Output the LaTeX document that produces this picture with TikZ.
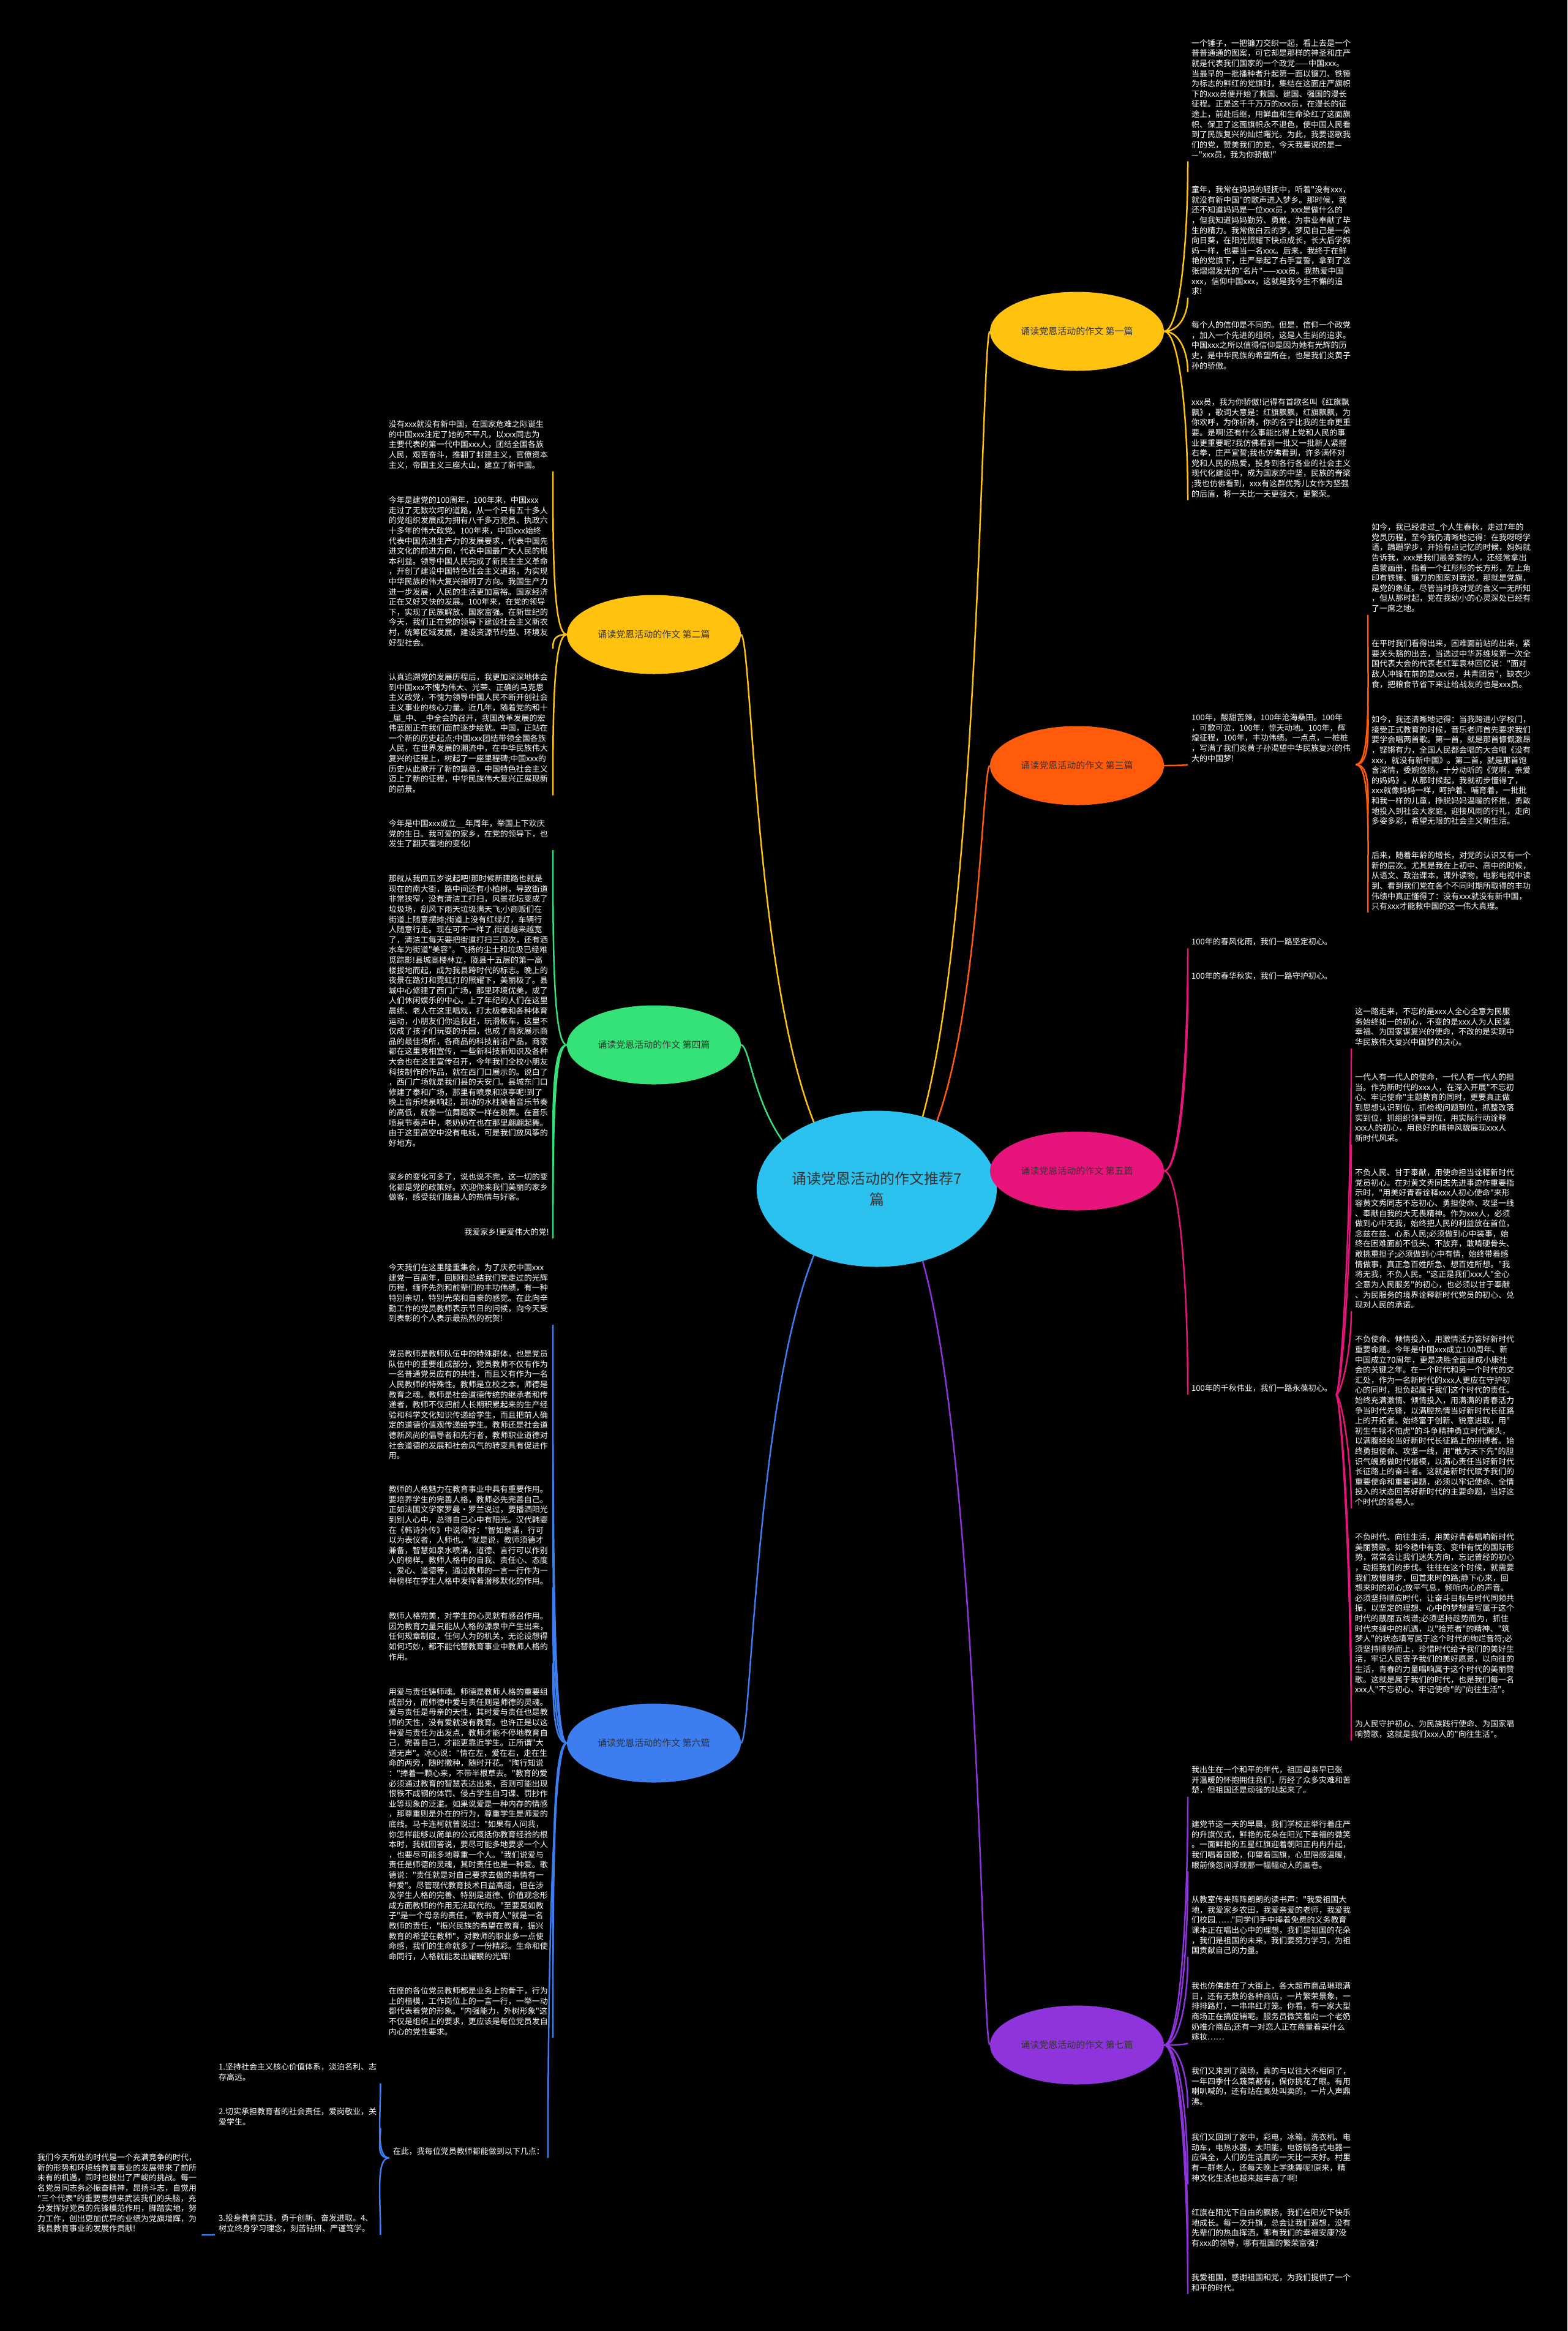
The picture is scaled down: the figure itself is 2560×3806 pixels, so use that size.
\documentclass[tikz,border=0pt]{standalone}
\usepackage{fontspec}
\newfontfamily\cjk{Noto Sans CJK SC}
\usetikzlibrary{calc,shapes.geometric}
\setlength\parindent{0pt}
\definecolor{cy}{HTML}{FFC20E}
\definecolor{co}{HTML}{FF5B0A}
\definecolor{cm}{HTML}{E7157B}
\definecolor{cp}{HTML}{8F33DC}
\definecolor{cg}{HTML}{35E277}
\definecolor{cb}{HTML}{3C7EF0}
\definecolor{cc}{HTML}{2BC2F0}
\pgfdeclarelayer{bg}
\pgfsetlayers{bg,main}
\tikzset{
  txt/.style={font=\cjk\fontsize{13}{16.6}\selectfont, text=white, align=left, inner xsep=6pt, inner ysep=4pt, text width=262pt},
  rtxt/.style={txt, anchor=north west},
  ltxt/.style={txt, anchor=north east},
  one/.style={font=\cjk\fontsize{13}{16.6}\selectfont, text=white, inner xsep=6pt, inner ysep=4pt},
  br/.style={ellipse, fill=#1, minimum width=284pt, minimum height=129pt, inner sep=0pt, font=\cjk\fontsize{15}{18}\selectfont, text=black!80},
  lk/.style={draw=#1, line width=2.5pt},
}
\newcommand\rconn[3]{\draw[lk=#1] (#2) .. controls ($(#2)+(25,0)$) and ($(#3)!0.5!(#3|-#2)$) .. (#3);}
\newcommand\lconn[3]{\draw[lk=#1] (#2) .. controls ($(#2)+(-22,0)$) and ($(#3)!0.5!(#3|-#2)$) .. (#3);}
\begin{document}
\begin{tikzpicture}[x=1pt,y=-1pt]
\begin{pgfonlayer}{bg}
\fill[black] (0,0) rectangle (2560,3806);
\path[use as bounding box] (0,0) rectangle (2560,3806);
\end{pgfonlayer}

% central and branch nodes
\node[ellipse, fill=cc, minimum width=385pt, minimum height=255pt, inner sep=0pt, align=center, font=\cjk\fontsize{24}{34}\selectfont, text=black!80] (c) at (1432,1941) {诵读党恩活动的作文推荐7\\篇};
\node[br=cy] (b1) at (1759,541) {诵读党恩活动的作文 第一篇};
\node[br=co] (b3) at (1759,1250) {诵读党恩活动的作文 第三篇};
\node[br=cm] (b5) at (1759,1912) {诵读党恩活动的作文 第五篇};
\node[br=cp] (b7) at (1759,3339) {诵读党恩活动的作文 第七篇};
\node[br=cy] (b2) at (1068,1036) {诵读党恩活动的作文 第二篇};
\node[br=cg] (b4) at (1068,1706) {诵读党恩活动的作文 第四篇};
\node[br=cb] (b6) at (1068,2846) {诵读党恩活动的作文 第六篇};

% ---------------- branch 1
\node[rtxt] (b1a) at (1940,60) {一个锤子，一把镰刀交织一起，看上去是一个\\普普通通的图案，可它却是那样的神圣和庄严\\就是代表我们国家的一个政党——中国xxx。\\当最早的一批播种者升起第一面以镰刀、铁锤\\为标志的鲜红的党旗时，集结在这面庄严旗帜\\下的xxx员便开始了救国、建国、强国的漫长\\征程。正是这千千万万的xxx员，在漫长的征\\途上，前赴后继，用鲜血和生命染红了这面旗\\帜、保卫了这面旗帜永不退色，使中国人民看\\到了民族复兴的灿烂曙光。为此，我要讴歌我\\们的党，赞美我们的党，今天我要说的是—\\—"xxx员，我为你骄傲!"};
\node[rtxt] (b1b) at (1940,299.5) {童年，我常在妈妈的轻抚中，听着"没有xxx，\\就没有新中国"的歌声进入梦乡。那时候，我\\还不知道妈妈是一位xxx员，xxx是做什么的\\，但我知道妈妈勤劳、勇敢，为事业奉献了毕\\生的精力。我常做白云的梦，梦见自己是一朵\\向日葵，在阳光照耀下快点成长，长大后学妈\\妈一样，也要当一名xxx。后来，我终于在鲜\\艳的党旗下，庄严举起了右手宣誓，拿到了这\\张熠熠发光的"名片"——xxx员。我热爱中国\\xxx，信仰中国xxx，这就是我今生不懈的追\\求!};
\node[rtxt] (b1c) at (1940,520.5) {每个人的信仰是不同的。但是，信仰一个政党\\，加入一个先进的组织，这是人生尚的追求。\\中国xxx之所以值得信仰是因为她有光辉的历\\史，是中华民族的希望所在，也是我们炎黄子\\孙的骄傲。};
\node[rtxt] (b1d) at (1940,646.5) {xxx员，我为你骄傲!记得有首歌名叫《红旗飘\\飘》，歌词大意是：红旗飘飘，红旗飘飘，为\\你欢呼，为你祈祷，你的名字比我的生命更重\\要。是啊!还有什么事能比得上党和人民的事\\业更重要呢?我仿佛看到一批又一批新人紧握\\右拳，庄严宣誓;我也仿佛看到，许多满怀对\\党和人民的热爱，投身到各行各业的社会主义\\现代化建设中，成为国家的中坚，民族的脊梁\\;我也仿佛看到，xxx有这群优秀儿女作为坚强\\的后盾，将一天比一天更强大，更繁荣。};

% ---------------- branch 3
\node[rtxt] (b3m) at (1940,1161.5) {100年，酸甜苦辣，100年沧海桑田。100年\\，可歌可泣，100年，惊天动地。100年，辉\\煌征程，100年，丰功伟绩。一点点，一桩桩\\，写满了我们炎黄子孙渴望中华民族复兴的伟\\大的中国梦!};
\node[rtxt] (b3a) at (2234,850.5) {如今，我已经走过\_个人生春秋，走过7年的\\党员历程，至今我仍清晰地记得：在我呀呀学\\语，蹒跚学步，开始有点记忆的时候，妈妈就\\告诉我，xxx是我们最亲爱的人，还经常拿出\\启蒙画册，指着一个红彤彤的长方形，左上角\\印有铁锤、镰刀的图案对我说，那就是党旗，\\是党的象征。尽管当时我对党的含义一无所知\\，但从那时起，党在我幼小的心灵深处已经有\\了一席之地。};
\node[rtxt] (b3b) at (2234,1040.5) {在平时我们看得出来，困难面前站的出来，紧\\要关头豁的出去，当选过中华苏维埃第一次全\\国代表大会的代表老红军袁林回忆说："面对\\敌人冲锋在前的是xxx员，共青团员"，缺衣少\\食，把粮食节省下来让给战友的也是xxx员。};
\node[rtxt] (b3c) at (2234,1164.5) {如今，我还清晰地记得：当我跨进小学校门，\\接受正式教育的时候，音乐老师首先要求我们\\要学会唱两首歌。第一首，就是那首慷慨激昂\\，铿锵有力，全国人民都会唱的大合唱《没有\\xxx，就没有新中国》。第二首，就是那首饱\\含深情，委婉悠扬，十分动听的《党啊，亲爱\\的妈妈》。从那时候起，我就初步懂得了，\\xxx就像妈妈一样，呵护着、哺育着，一批批\\和我一样的儿童，挣脱妈妈温暖的怀抱，勇敢\\地投入到社会大家庭，迎接风雨的行礼，走向\\多姿多彩，希望无限的社会主义新生活。};
\node[rtxt] (b3d) at (2234,1386.5) {后来，随着年龄的增长，对党的认识又有一个\\新的层次。尤其是我在上初中、高中的时候，\\从语文、政治课本，课外读物，电影电视中读\\到、看到我们党在各个不同时期所取得的丰功\\伟绩中真正懂得了：没有xxx就没有新中国，\\只有xxx才能救中国的这一伟大真理。};

% ---------------- branch 5
\node[one, anchor=north west] (b5a) at (1940,1527.5) {100年的春风化雨，我们一路坚定初心。};
\node[one, anchor=north west] (b5b) at (1940,1583.5) {100年的春华秋实，我们一路守护初心。};
\node[one, anchor=north west] (b5c) at (1940,2256.5) {100年的千秋伟业，我们一路永葆初心。};
\node[rtxt] (b5r1) at (2207,1641.5) {这一路走来，不忘的是xxx人全心全意为民服\\务始终如一的初心，不变的是xxx人为人民谋\\幸福、为国家谋复兴的使命，不改的是实现中\\华民族伟大复兴中国梦的决心。};
\node[rtxt] (b5r2) at (2207,1748.5) {一代人有一代人的使命，一代人有一代人的担\\当。作为新时代的xxx人，在深入开展"不忘初\\心、牢记使命"主题教育的同时，更要真正做\\到思想认识到位，抓检视问题到位，抓整改落\\实到位，抓组织领导到位，用实际行动诠释\\xxx人的初心，用良好的精神风貌展现xxx人\\新时代风采。};
\node[rtxt] (b5r3) at (2207,1904.5) {不负人民、甘于奉献，用使命担当诠释新时代\\党员初心。在对黄文秀同志先进事迹作重要指\\示时，"用美好青春诠释xxx人初心使命"来形\\容黄文秀同志不忘初心、勇担使命、攻坚一线\\、奉献自我的大无畏精神。作为xxx人，必须\\做到心中无我，始终把人民的利益放在首位，\\念兹在兹、心系人民;必须做到心中装事，始\\终在困难面前不低头、不放弃，敢啃硬骨头、\\敢挑重担子;必须做到心中有情，始终带着感\\情做事，真正急百姓所急、想百姓所想。"我\\将无我，不负人民。"这正是我们xxx人"全心\\全意为人民服务"的初心，也必须以甘于奉献\\、为民服务的境界诠释新时代党员的初心、兑\\现对人民的承诺。};
\node[rtxt] (b5r4) at (2207,2176.5) {不负使命、倾情投入，用激情活力答好新时代\\重要命题。今年是中国xxx成立100周年、新\\中国成立70周年，更是决胜全面建成小康社\\会的关键之年。在一个时代和另一个时代的交\\汇处，作为一名新时代的xxx人更应在守护初\\心的同时，担负起属于我们这个时代的责任。\\始终充满激情、倾情投入，用满满的青春活力\\争当时代先锋，以满腔热情当好新时代长征路\\上的开拓者。始终富于创新、锐意进取，用"\\初生牛犊不怕虎"的斗争精神勇立时代潮头，\\以满腹经纶当好新时代长征路上的拼搏者。始\\终勇担使命、攻坚一线，用"敢为天下先"的胆\\识气魄勇做时代楷模，以满心责任当好新时代\\长征路上的奋斗者。这就是新时代赋予我们的\\重要使命和重要课题，必须以牢记使命、全情\\投入的状态回答好新时代的主要命题，当好这\\个时代的答卷人。};
\node[rtxt] (b5r5) at (2207,2499.5) {不负时代、向往生活，用美好青春唱响新时代\\美丽赞歌。如今稳中有变、变中有忧的国际形\\势，常常会让我们迷失方向，忘记曾经的初心\\，动摇我们的步伐。往往在这个时候，就需要\\我们放慢脚步，回首来时的路;静下心来，回\\想来时的初心;放平气息，倾听内心的声音。\\必须坚持顺应时代，让奋斗目标与时代同频共\\振，以坚定的理想、心中的梦想谱写属于这个\\时代的靓丽五线谱;必须坚持趁势而为，抓住\\时代夹缝中的机遇，以"拾荒者"的精神、"筑\\梦人"的状态填写属于这个时代的绚烂音符;必\\须坚持顺势而上，珍惜时代给予我们的美好生\\活，牢记人民寄予我们的美好愿景，以向往的\\生活，青春的力量唱响属于这个时代的美丽赞\\歌。这就是属于我们的时代，也是我们每一名\\xxx人"不忘初心、牢记使命"的"向往生活"。};
\node[rtxt] (b5r6) at (2207,2804.5) {为人民守护初心、为民族践行使命、为国家唱\\响赞歌，这就是我们xxx人的"向往生活"。};

% ---------------- branch 7
\node[rtxt] (b7a) at (1940,2879.5) {我出生在一个和平的年代，祖国母亲早已张\\开温暖的怀抱拥住我们，历经了众多灾难和苦\\楚，但祖国还是顽强的站起来了。};
\node[rtxt] (b7b) at (1940,2968.5) {建党节这一天的早晨，我们学校正举行着庄严\\的升旗仪式，鲜艳的花朵在阳光下幸福的微笑\\。一面鲜艳的五星红旗迎着朝阳正冉冉升起，\\我们唱着国歌，仰望着国旗，心里陪感温暖，\\眼前倏忽间浮现那一幅幅动人的画卷。};
\node[rtxt] (b7c) at (1940,3091.5) {从教室传来阵阵朗朗的读书声："我爱祖国大\\地，我爱家乡农田，我爱亲爱的老师，我爱我\\们校园……"同学们手中捧着免费的义务教育\\课本正在唱出心中的理想，我们是祖国的花朵\\，我们是祖国的未来，我们要努力学习，为祖\\国贡献自己的力量。};
\node[rtxt] (b7d) at (1940,3232.5) {我也仿佛走在了大街上，各大超市商品琳琅满\\目，还有无数的各种商店，一片繁荣景象，一\\排排路灯，一串串红灯笼。你看，有一家大型\\商场正在搞促销呢。服务员微笑着向一个老奶\\奶推介商品;还有一对恋人正在商量着买什么\\嫁妆……};
\node[rtxt] (b7e) at (1940,3371.5) {我们又来到了菜场，真的与以往大不相同了，\\一年四季什么蔬菜都有，保你挑花了眼。有用\\喇叭喊的，还有站在高处叫卖的，一片人声鼎\\沸。};
\node[rtxt] (b7f) at (1940,3479.5) {我们又回到了家中，彩电，冰箱，洗衣机、电\\动车，电热水器，太阳能，电饭锅各式电器一\\应俱全，人们的生活真的一天比一天好。村里\\有一群老人，还每天晚上学跳舞呢!原来，精\\神文化生活也越来越丰富了啊!};
\node[rtxt] (b7g) at (1940,3602.5) {红旗在阳光下自由的飘扬，我们在阳光下快乐\\地成长。每一次升旗，总会让我们遐想，没有\\先辈们的热血挥洒，哪有我们的幸福安康?没\\有xxx的领导，哪有祖国的繁荣富强?};
\node[rtxt] (b7h) at (1940,3708.5) {我爱祖国，感谢祖国和党，为我们提供了一个\\和平的时代。};

% ---------------- branch 2
\node[ltxt] (b2a) at (903,682.5) {没有xxx就没有新中国，在国家危难之际诞生\\的中国xxx注定了她的不平凡，以xxx同志为\\主要代表的第一代中国xxx人，团结全国各族\\人民，艰苦奋斗，推翻了封建主义，官僚资本\\主义，帝国主义三座大山，建立了新中国。};
\node[ltxt] (b2b) at (903,806.5) {今年是建党的100周年，100年来，中国xxx\\走过了无数坎坷的道路，从一个只有五十多人\\的党组织发展成为拥有八千多万党员、执政六\\十多年的伟大政党。100年来，中国xxx始终\\代表中国先进生产力的发展要求，代表中国先\\进文化的前进方向，代表中国最广大人民的根\\本利益。领导中国人民完成了新民主主义革命\\，开创了建设中国特色社会主义道路，为实现\\中华民族的伟大复兴指明了方向。我国生产力\\进一步发展，人民的生活更加富裕。国家经济\\正在又好又快的发展。100年来，在党的领导\\下，实现了民族解放、国家富强。在新世纪的\\今天，我们正在党的领导下建设社会主义新农\\村，统筹区域发展，建设资源节约型、环境友\\好型社会。};
\node[ltxt] (b2c) at (903,1095.5) {认真追溯党的发展历程后，我更加深深地体会\\到中国xxx不愧为伟大、光荣、正确的马克思\\主义政党，不愧为领导中国人民不断开创社会\\主义事业的核心力量。近几年，随着党的和十\\\_届\_中、\_中全会的召开，我国改革发展的宏\\伟蓝图正在我们面前逐步绘就。中国，正站在\\一个新的历史起点;中国xxx团结带领全国各族\\人民，在世界发展的潮流中，在中华民族伟大\\复兴的征程上，树起了一座里程碑;中国xxx的\\历史从此掀开了新的篇章，中国特色社会主义\\迈上了新的征程，中华民族伟大复兴正展现新\\的前景。};

% ---------------- branch 4
\node[ltxt] (b4a) at (903,1334.5) {今年是中国xxx成立\_\_年周年，举国上下欢庆\\党的生日。我可爱的家乡，在党的领导下，也\\发生了翻天覆地的变化!};
\node[ltxt] (b4b) at (903,1424.5) {那就从我四五岁说起吧!那时候新建路也就是\\现在的南大街，路中间还有小柏树，导致街道\\非常狭窄，没有清洁工打扫，风景花坛变成了\\垃圾场，刮风下雨天垃圾满天飞;小商贩们在\\街道上随意摆摊;街道上没有红绿灯，车辆行\\人随意行走。现在可不一样了,街道越来越宽\\了，清洁工每天要把街道打扫三四次，还有洒\\水车为街道"美容"。飞扬的尘土和垃圾已经难\\觅踪影!县城高楼林立，陇县十五层的第一高\\楼拔地而起，成为我县跨时代的标志。晚上的\\夜景在路灯和霓虹灯的照耀下，美丽极了。县\\城中心修建了西门广场，那里环境优美，成了\\人们休闲娱乐的中心。上了年纪的人们在这里\\晨练、老人在这里唱戏，打太极拳和各种体育\\运动，小朋友们你追我赶，玩滑板车，这里不\\仅成了孩子们玩耍的乐园，也成了商家展示商\\品的最佳场所，各商品的科技前沿产品，商家\\都在这里竞相宣传，一些新科技新知识及各种\\大会也在这里宣传召开，今年我们全校小朋友\\科技制作的作品，就在西门口展示的。说白了\\，西门广场就是我们县的天安门。县城东门口\\修建了泰和广场，那里有喷泉和凉亭呢!到了\\晚上音乐喷泉响起，跳动的水柱随着音乐节奏\\的高低，就像一位舞蹈家一样在跳舞。在音乐\\喷泉节奏声中，老奶奶在也在那里翩翩起舞。\\由于这里高空中没有电线，可是我们放风筝的\\好地方。};
\node[ltxt] (b4c) at (903,1911.5) {家乡的变化可多了，说也说不完，这一切的变\\化都是党的政策好。欢迎你来我们美丽的家乡\\做客，感受我们陇县人的热情与好客。};
\node[one, anchor=north east] (b4d) at (903,2001.5) {我爱家乡!更爱伟大的党!};

% ---------------- branch 6
\node[ltxt] (b6a) at (903,2059.5) {今天我们在这里隆重集会，为了庆祝中国xxx\\建党一百周年，回顾和总结我们党走过的光辉\\历程，缅怀先烈和前辈们的丰功伟绩，有一种\\特别亲切，特别光荣和自豪的感觉。在此向辛\\勤工作的党员教师表示节日的问候，向今天受\\到表彰的个人表示最热烈的祝贺!};
\node[ltxt] (b6b) at (903,2200.5) {党员教师是教师队伍中的特殊群体，也是党员\\队伍中的重要组成部分，党员教师不仅有作为\\一名普通党员应有的共性，而且又有作为一名\\人民教师的特殊性。教师是立校之本，师德是\\教育之魂。教师是社会道德传统的继承者和传\\递者，教师不仅把前人长期积累起来的生产经\\验和科学文化知识传递给学生，而且把前人确\\定的道德价值观传递给学生。教师还是社会道\\德新风尚的倡导者和先行者，教师职业道德对\\社会道德的发展和社会风气的转变具有促进作\\用。};
\node[ltxt] (b6c) at (903,2421.5) {教师的人格魅力在教育事业中具有重要作用。\\要培养学生的完善人格，教师必先完善自己。\\正如法国文学家罗曼·罗兰说过，要播洒阳光\\到别人心中，总得自己心中有阳光。汉代韩婴\\在《韩诗外传》中说得好："智如泉涌，行可\\以为表仪者，人师也。"就是说，教师须德才\\兼备，智慧如泉水喷涌，道德、言行可以作别\\人的榜样。教师人格中的自我、责任心、态度\\、爱心、道德等，通过教师的一言一行作为一\\种榜样在学生人格中发挥着潜移默化的作用。};
\node[ltxt] (b6d) at (903,2628.5) {教师人格完美，对学生的心灵就有感召作用。\\因为教育力量只能从人格的源泉中产生出来，\\任何规章制度，任何人为的机关，无论设想得\\如何巧妙，都不能代替教育事业中教师人格的\\作用。};
\node[ltxt] (b6e) at (903,2752.5) {用爱与责任铸师魂。师德是教师人格的重要组\\成部分，而师德中爱与责任则是师德的灵魂。\\爱与责任是母亲的天性，其时爱与责任也是教\\师的天性，没有爱就没有教育。也许正是以这\\种爱与责任为出发点，教师才能不停地教育自\\己，完善自己，才能更靠近学生。正所谓"大\\道无声"。冰心说："情在左，爱在右，走在生\\命的两旁，随时撒种，随时开花。"陶行知说\\："捧着一颗心来，不带半根草去。"教育的爱\\必须通过教育的智慧表达出来，否则可能出现\\恨铁不成钢的体罚、侵占学生自习课、罚抄作\\业等现象的泛滥。如果说爱是一种内存的情感\\，那尊重则是外在的行为，尊重学生是师爱的\\底线。马卡连柯就曾说过："如果有人问我，\\你怎样能够以简单的公式概括你教育经验的根\\本时，我就回答说，要尽可能多地要求一个人\\，也要尽可能多地尊重一个人。"我们说爱与\\责任是师德的灵魂，其时责任也是一种爱。歌\\德说："责任就是对自己要求去做的事情有一\\种爱"。尽管现代教育技术日益高超，但在涉\\及学生人格的完善、特别是道德、价值观念形\\成方面教师的作用无法取代的。"至要莫如教\\子"是一个母亲的责任，"教书育人"就是一名\\教师的责任，"振兴民族的希望在教育，振兴\\教育的希望在教师"，对教师的职业多一点使\\命感，我们的生命就多了一份精彩。生命和使\\命同行，人格就能发出耀眼的光辉!};
\node[ltxt] (b6f) at (903,3240.5) {在座的各位党员教师都是业务上的骨干，行为\\上的楷模，工作岗位上的一言一行，一举一动\\都代表着党的形象。"内强能力，外树形象"这\\不仅是组织上的要求，更应该是每位党员发自\\内心的党性要求。};
\node[one, anchor=north east] (b6g) at (895,3502.5) {在此，我每位党员教师都能做到以下几点：};
\node[rtxt, text width=258pt] (i1) at (351,3364.5) {1.坚持社会主义核心价值体系，淡泊名利、志\\存高远。};
\node[rtxt, text width=258pt] (i2) at (351,3437.5) {2.切实承担教育者的社会责任，爱岗敬业，关\\爱学生。};
\node[rtxt, text width=258pt] (i3) at (351,3611.5) {3.投身教育实践，勇于创新、奋发进取。4、\\树立终身学习理念，刻苦钻研、严谨笃学。};
\node[rtxt] (big) at (55,3512.5) {我们今天所处的时代是一个充满竞争的时代，\\新的形势和环境给教育事业的发展带来了前所\\未有的机遇，同时也提出了严峻的挑战。每一\\名党员同志务必振奋精神，昂扬斗志，自觉用\\"三个代表"的重要思想来武装我们的头脑，充\\分发挥好党员的先锋模范作用，脚踏实地，努\\力工作，创出更加优异的业绩为党旗增辉，为\\我县教育事业的发展作贡献!};

% ---------------- connectors
\begin{pgfonlayer}{bg}
\draw[lk=cy] (c.center) .. controls (1600,1941) and (1600,541) .. (b1.west);
\draw[lk=co] (c.center) .. controls (1600,1941) and (1600,1250) .. (b3.west);
\draw[lk=cm] (c.center) .. controls (1600,1941) and (1600,1912) .. (b5.west);
\draw[lk=cp] (c.center) .. controls (1600,1941) and (1600,3339) .. (b7.west);
\draw[lk=cy] (c.center) .. controls (1235,1941) and (1232,1036) .. (b2.east);
\draw[lk=cg] (c.center) .. controls (1235,1941) and (1232,1706) .. (b4.east);
\draw[lk=cb] (c.center) .. controls (1235,1941) and (1232,2846) .. (b6.east);

\foreach \n in {b1a,b1b,b1c,b1d}{\rconn{cy}{b1.east}{\n.south west}}
\rconn{co}{b3.east}{b3m.south west}
\foreach \n in {b3a,b3b,b3c,b3d}{\rconn{co}{b3m.south east}{\n.south west}}
\foreach \n in {b5a,b5b,b5c}{\rconn{cm}{b5.east}{\n.south west}}
\foreach \n in {b5r1,b5r2,b5r3,b5r4,b5r5,b5r6}{\draw[lk=cm] (b5c.south east) .. controls ($(b5c.south east)+(8,0)$) and ($(\n.south west)!0.5!(\n.south west|-b5c.south east)$) .. (\n.south west);}
\foreach \n in {b7a,b7b,b7c,b7d,b7e,b7f,b7g,b7h}{\rconn{cp}{b7.east}{\n.south west}}
\foreach \n in {b2a,b2b,b2c}{\lconn{cy}{b2.west}{\n.south east}}
\foreach \n in {b4a,b4b,b4c,b4d}{\lconn{cg}{b4.west}{\n.south east}}
\foreach \n in {b6a,b6b,b6c,b6d,b6e,b6f,b6g}{\lconn{cb}{b6.west}{\n.south east}}
\foreach \n in {i1,i2,i3}{\lconn{cb}{b6g.south west}{\n.south east}}
\draw[lk=cb] (i3.south west) -- (big.south east);
\end{pgfonlayer}
\end{tikzpicture}
\end{document}
